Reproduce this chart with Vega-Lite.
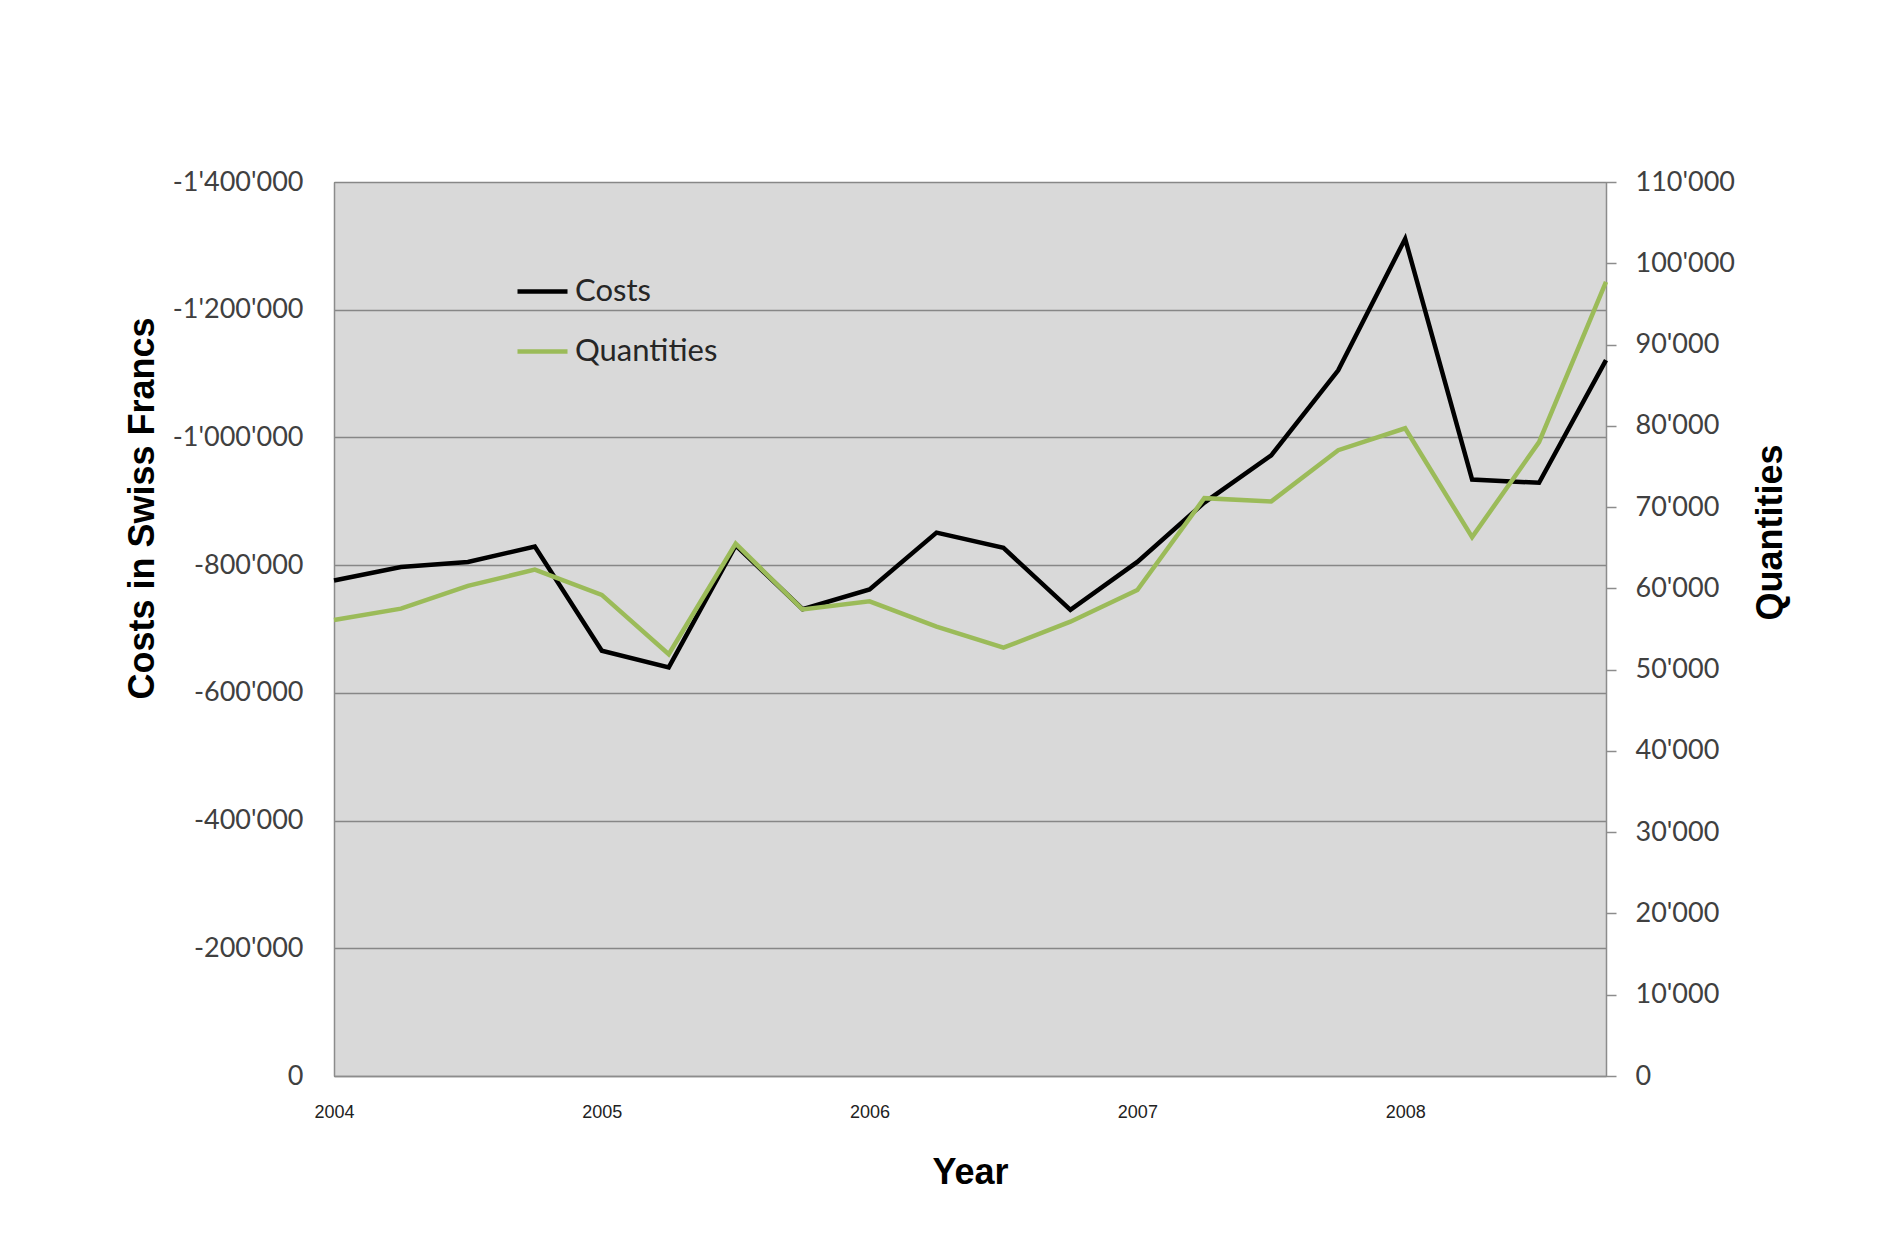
{
  "$schema": "https://vega.github.io/schema/vega-lite/v6.json",
  "width": 1272,
  "height": 894,
  "autosize": {"type": "none"},
  "padding": {"left": 334, "top": 182, "right": 279, "bottom": 177},
  "background": "white",
  "data": {"values": [
    {"quarter": 2004.00, "costs": -776000, "quantities": 56100},
    {"quarter": 2004.25, "costs": -797000, "quantities": 57500},
    {"quarter": 2004.50, "costs": -805000, "quantities": 60300},
    {"quarter": 2004.75, "costs": -829000, "quantities": 62300},
    {"quarter": 2005.00, "costs": -666000, "quantities": 59200},
    {"quarter": 2005.25, "costs": -640000, "quantities": 51900},
    {"quarter": 2005.50, "costs": -831000, "quantities": 65500},
    {"quarter": 2005.75, "costs": -731000, "quantities": 57400},
    {"quarter": 2006.00, "costs": -762000, "quantities": 58400},
    {"quarter": 2006.25, "costs": -851000, "quantities": 55300},
    {"quarter": 2006.50, "costs": -827000, "quantities": 52700},
    {"quarter": 2006.75, "costs": -730000, "quantities": 55900},
    {"quarter": 2007.00, "costs": -805000, "quantities": 59800},
    {"quarter": 2007.25, "costs": -898000, "quantities": 71100},
    {"quarter": 2007.50, "costs": -972000, "quantities": 70700},
    {"quarter": 2007.75, "costs": -1105000, "quantities": 77000},
    {"quarter": 2008.00, "costs": -1311000, "quantities": 79700},
    {"quarter": 2008.25, "costs": -934000, "quantities": 66300},
    {"quarter": 2008.50, "costs": -929000, "quantities": 78000},
    {"quarter": 2008.75, "costs": -1121000, "quantities": 97700}
  ]},
  "encoding": {
    "x": {
      "field": "quarter",
      "type": "quantitative",
      "scale": {"domain": [2004, 2008.75], "nice": false, "zero": false},
      "axis": {
        "title": "Year",
        "values": [2004, 2005, 2006, 2007, 2008],
        "format": "d",
        "grid": false,
        "ticks": false,
        "tickSize": 0,
        "labelFlush": false,
        "labelPadding": 27,
        "labelFont": "Liberation Sans",
        "labelFontSize": 18,
        "labelColor": "#222222",
        "domainColor": "#8c8c8c",
        "domainWidth": 1.5,
        "titleFont": "Liberation Sans",
        "titleFontSize": 36,
        "titleFontWeight": "bold",
        "titleColor": "#000000",
        "titleX": 636,
        "titleY": 96,
        "titleBaseline": "middle",
        "titleAlign": "center"
      }
    }
  },
  "layer": [
    {
      "mark": {"type": "line", "strokeWidth": 4.5, "strokeJoin": "miter"},
      "encoding": {
        "y": {
          "field": "costs",
          "type": "quantitative",
          "scale": {"domain": [-1400000, 0], "reverse": true, "nice": false, "zero": false},
          "axis": {
            "orient": "left",
            "title": "Costs in Swiss Francs",
            "values": [-1400000, -1200000, -1000000, -800000, -600000, -400000, -200000, 0],
            "format": ",d",
            "grid": true,
            "gridColor": "#878787",
            "gridWidth": 1.5,
            "ticks": false,
            "tickSize": 0,
            "labelPadding": 31,
            "labelFont": "Lato",
            "labelFontSize": 27,
            "labelColor": "#404040",
            "domainColor": "#8c8c8c",
            "domainWidth": 1.5,
            "titleFont": "Liberation Sans",
            "titleFontSize": 36,
            "titleFontWeight": "bold",
            "titleColor": "#000000",
            "titleAngle": 270,
            "titleX": -192,
            "titleY": 326,
            "titleBaseline": "middle",
            "titleAlign": "center"
          }
        },
        "color": {
          "datum": "Costs",
          "type": "nominal",
          "scale": {"domain": ["Costs", "Quantities"], "range": ["#000000", "#9bbb59"]},
          "legend": {
            "title": null,
            "orient": "none",
            "legendX": 181,
            "legendY": 82,
            "padding": 0,
            "symbolType": "stroke",
            "symbolSize": 2500,
            "symbolStrokeWidth": 4.5,
            "labelFont": "Lato",
            "labelFontSize": 31,
            "labelColor": "#262626",
            "labelOffset": 5,
            "rowPadding": 17
          }
        }
      }
    },
    {
      "mark": {"type": "line", "strokeWidth": 4.5, "strokeJoin": "miter"},
      "encoding": {
        "y": {
          "field": "quantities",
          "type": "quantitative",
          "scale": {"domain": [0, 110000], "nice": false},
          "axis": {
            "orient": "right",
            "title": "Quantities",
            "values": [0, 10000, 20000, 30000, 40000, 50000, 60000, 70000, 80000, 90000, 100000, 110000],
            "format": ",d",
            "grid": false,
            "ticks": true,
            "tickSize": 10,
            "tickColor": "#8c8c8c",
            "tickWidth": 1.5,
            "labelPadding": 19,
            "labelFont": "Lato",
            "labelFontSize": 27,
            "labelColor": "#404040",
            "domainColor": "#8c8c8c",
            "domainWidth": 1.5,
            "titleFont": "Liberation Sans",
            "titleFontSize": 36,
            "titleFontWeight": "bold",
            "titleColor": "#000000",
            "titleAngle": 270,
            "titleX": 164,
            "titleY": 350,
            "titleBaseline": "middle",
            "titleAlign": "center"
          }
        },
        "color": {"datum": "Quantities", "type": "nominal"}
      }
    }
  ],
  "resolve": {"scale": {"y": "independent"}},
  "config": {
    "locale": {"number": {"decimal": ".", "thousands": "'", "grouping": [3], "currency": ["", ""], "minus": "-"}},
    "view": {"fill": "#d9d9d9", "stroke": "#5f6b45", "strokeWidth": 1}
  }
}
